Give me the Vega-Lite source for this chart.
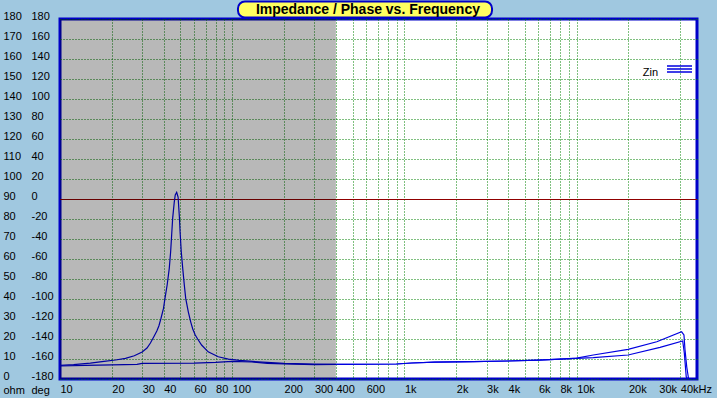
{
  "$schema": "https://vega.github.io/schema/vega-lite/v6.json",
  "width": 637,
  "height": 360,
  "autosize": {"type": "none"},
  "padding": {"left": 60, "top": 19, "right": 20, "bottom": 19},
  "background": "#a0c8e0",
  "config": {
    "view": {"fill": "#ffffff", "stroke": "#0000c8", "strokeWidth": 3},
    "font": "Liberation Sans",
    "axis": {
      "labelFont": "Liberation Sans", "labelFontSize": 11, "labelColor": "#000000",
      "titleFont": "Liberation Sans", "titleFontSize": 11, "titleFontWeight": "normal", "titleColor": "#000000",
      "domain": false, "ticks": false, "tickSize": 0,
      "labelFlush": false, "labelOverlap": false, "labelBound": false
    }
  },
  "datasets": {
    "zin": [
      {"trace": "A", "freq": 10, "ohm": 6.8},
      {"trace": "A", "freq": 12, "ohm": 7.2},
      {"trace": "A", "freq": 15, "ohm": 7.9},
      {"trace": "A", "freq": 18, "ohm": 8.8},
      {"trace": "A", "freq": 21, "ohm": 9.5},
      {"trace": "A", "freq": 24, "ohm": 10.3},
      {"trace": "A", "freq": 27, "ohm": 11.6},
      {"trace": "A", "freq": 30, "ohm": 13.5},
      {"trace": "A", "freq": 32, "ohm": 15.5},
      {"trace": "A", "freq": 33.5, "ohm": 18},
      {"trace": "A", "freq": 35, "ohm": 21},
      {"trace": "A", "freq": 36.5, "ohm": 24},
      {"trace": "A", "freq": 37.5, "ohm": 26.5},
      {"trace": "A", "freq": 38.5, "ohm": 30},
      {"trace": "A", "freq": 39.9, "ohm": 35.3},
      {"trace": "A", "freq": 40.7, "ohm": 40.3},
      {"trace": "A", "freq": 41.9, "ohm": 47},
      {"trace": "A", "freq": 43.1, "ohm": 55.3},
      {"trace": "A", "freq": 43.9, "ohm": 63.6},
      {"trace": "A", "freq": 44.5, "ohm": 72},
      {"trace": "A", "freq": 45.1, "ohm": 80.3},
      {"trace": "A", "freq": 46.1, "ohm": 88.6},
      {"trace": "A", "freq": 46.7, "ohm": 92},
      {"trace": "A", "freq": 47.6, "ohm": 93.3},
      {"trace": "A", "freq": 48.5, "ohm": 91},
      {"trace": "A", "freq": 49.4, "ohm": 80.3},
      {"trace": "A", "freq": 49.8, "ohm": 73.6},
      {"trace": "A", "freq": 50.6, "ohm": 63.6},
      {"trace": "A", "freq": 51.6, "ohm": 55.3},
      {"trace": "A", "freq": 52.7, "ohm": 47},
      {"trace": "A", "freq": 53.7, "ohm": 40.3},
      {"trace": "A", "freq": 55.6, "ohm": 33.6},
      {"trace": "A", "freq": 57.4, "ohm": 28.6},
      {"trace": "A", "freq": 59, "ohm": 25},
      {"trace": "A", "freq": 61, "ohm": 22},
      {"trace": "A", "freq": 63, "ohm": 20},
      {"trace": "A", "freq": 66.4, "ohm": 17},
      {"trace": "A", "freq": 72.5, "ohm": 13.6},
      {"trace": "A", "freq": 83, "ohm": 11.1},
      {"trace": "A", "freq": 95, "ohm": 9.9},
      {"trace": "A", "freq": 110, "ohm": 9.3},
      {"trace": "A", "freq": 150, "ohm": 8.4},
      {"trace": "A", "freq": 200, "ohm": 7.8},
      {"trace": "A", "freq": 300, "ohm": 7.4},
      {"trace": "A", "freq": 400, "ohm": 7.3},
      {"trace": "A", "freq": 900, "ohm": 7.5},
      {"trace": "A", "freq": 1100, "ohm": 8.0},
      {"trace": "A", "freq": 1500, "ohm": 8.4},
      {"trace": "A", "freq": 2500, "ohm": 8.7},
      {"trace": "A", "freq": 4000, "ohm": 9.0},
      {"trace": "A", "freq": 6000, "ohm": 9.4},
      {"trace": "A", "freq": 8000, "ohm": 9.9},
      {"trace": "A", "freq": 10000, "ohm": 10.4},
      {"trace": "A", "freq": 12500, "ohm": 12.0},
      {"trace": "A", "freq": 19900, "ohm": 14.8},
      {"trace": "A", "freq": 29200, "ohm": 18.6},
      {"trace": "A", "freq": 40700, "ohm": 23.6},
      {"trace": "A", "freq": 42000, "ohm": 22.0},
      {"trace": "A", "freq": 42600, "ohm": 14.5},
      {"trace": "A", "freq": 43600, "ohm": 6.0},
      {"trace": "A", "freq": 44600, "ohm": 0.5},
      {"trace": "B", "freq": 10, "ohm": 6.5},
      {"trace": "B", "freq": 14, "ohm": 6.8},
      {"trace": "B", "freq": 20, "ohm": 7.1},
      {"trace": "B", "freq": 28, "ohm": 7.3},
      {"trace": "B", "freq": 30, "ohm": 7.8},
      {"trace": "B", "freq": 60, "ohm": 7.9},
      {"trace": "B", "freq": 80, "ohm": 8.3},
      {"trace": "B", "freq": 100, "ohm": 8.8},
      {"trace": "B", "freq": 130, "ohm": 8.5},
      {"trace": "B", "freq": 160, "ohm": 7.8},
      {"trace": "B", "freq": 200, "ohm": 7.6},
      {"trace": "B", "freq": 300, "ohm": 7.2},
      {"trace": "B", "freq": 400, "ohm": 7.3},
      {"trace": "B", "freq": 900, "ohm": 7.5},
      {"trace": "B", "freq": 1100, "ohm": 8.0},
      {"trace": "B", "freq": 1500, "ohm": 8.4},
      {"trace": "B", "freq": 2500, "ohm": 8.7},
      {"trace": "B", "freq": 4000, "ohm": 9.0},
      {"trace": "B", "freq": 6000, "ohm": 9.4},
      {"trace": "B", "freq": 8000, "ohm": 9.9},
      {"trace": "B", "freq": 10000, "ohm": 10.3},
      {"trace": "B", "freq": 12500, "ohm": 10.7},
      {"trace": "B", "freq": 19900, "ohm": 12.0},
      {"trace": "B", "freq": 30500, "ohm": 15.8},
      {"trace": "B", "freq": 41300, "ohm": 19.0},
      {"trace": "B", "freq": 42200, "ohm": 13.0},
      {"trace": "B", "freq": 43300, "ohm": 1.0},
      {"trace": "B", "freq": 44000, "ohm": 0.3}
    ]
  },
  "layer": [
    {
      "data": {"values": [{"deg": 0}]},
      "mark": {"type": "rule", "color": "#900000", "strokeWidth": 1, "yOffset": 0.5},
      "encoding": {
        "y": {
          "field": "deg", "type": "quantitative",
          "scale": {"domain": [-180, 180], "nice": false, "zero": false},
          "axis": {
            "orient": "left",
            "values": [-180, -160, -140, -120, -100, -80, -60, -40, -20, 0, 20, 40, 60, 80, 100, 120, 140, 160, 180],
            "labelExpr": "'' + datum.value",
            "grid": false, "labelOverlap": false, "labelBound": false, "labelFlush": false,
            "labelAlign": "left", "labelBaseline": "middle", "labelPadding": 29, "labelOffset": -3,
            "title": "deg", "titleAngle": 0, "titleX": -29, "titleY": 371, "titleAlign": "left", "titleBaseline": "middle"
          }
        }
      }
    },
    {
      "data": {"name": "zin"},
      "mark": {"type": "line", "strokeWidth": 1.2, "interpolate": "linear"},
      "encoding": {
        "x": {
          "field": "freq", "type": "quantitative",
          "scale": {"type": "log", "domain": [10, 50000], "nice": false},
          "axis": {
            "values": [10, 20, 30, 40, 50, 60, 70, 80, 90, 100, 200, 300, 400, 500, 600, 700, 800, 900, 1000, 2000, 3000, 4000, 5000, 6000, 7000, 8000, 9000, 10000, 20000, 30000, 40000],
            "labelExpr": "indexof([50,70,90,500,700,800,900,5000,7000,9000], datum.value) >= 0 ? '' : (datum.value >= 40000 ? '40kHz' : (datum.value >= 1000 ? (datum.value / 1000) + 'k' : '' + datum.value))",
            "labelAlign": "left", "labelBaseline": "middle", "labelPadding": 10,
            "labelOverlap": false, "labelBound": false, "labelFlush": false,
            "grid": true, "gridColor": "#008000", "gridDash": [1, 2], "gridWidth": 1,
            "gridOpacity": {"condition": {"test": "datum.value == 30000 || datum.value == 10", "value": 0}, "value": 1},
            "title": null
          }
        },
        "y": {
          "field": "ohm", "type": "quantitative",
          "scale": {"domain": [0, 180], "nice": false},
          "axis": {
            "orient": "left",
            "values": [0, 10, 20, 30, 40, 50, 60, 70, 80, 90, 100, 110, 120, 130, 140, 150, 160, 170, 180],
            "grid": true, "gridColor": "#008000", "gridDash": [1, 2], "gridWidth": 1,
            "labelOverlap": false, "labelBound": false, "labelFlush": false,
            "labelAlign": "left", "labelBaseline": "middle", "labelPadding": 57, "labelOffset": -3,
            "title": "ohm", "titleAngle": 0, "titleX": -57, "titleY": 371, "titleAlign": "left", "titleBaseline": "middle"
          }
        },
        "detail": {"field": "trace"},
        "color": {
          "datum": "Zin", "type": "nominal",
          "scale": {"range": ["#0000e0"]},
          "legend": {
            "orient": "none", "legendX": 581, "legendY": 40, "title": null, "padding": 0,
            "symbolType": "M-1,-0.52H1M-1,-0.28H1M-1,-0.04H1", "symbolSize": 625,
            "symbolStrokeWidth": 1.3, "symbolStrokeColor": "#0000c8", "symbolFillColor": "transparent",
            "symbolOffset": 25, "labelAlign": "right", "labelOffset": -35,
            "labelFont": "Liberation Sans", "labelFontSize": 11, "labelColor": "#000000"
          }
        }
      }
    },
    {
      "data": {"values": [{"from": 10, "to": 400}]},
      "mark": {"type": "rect", "color": "#000000", "opacity": 0.28},
      "encoding": {
        "x": {"field": "from", "type": "quantitative"},
        "x2": {"field": "to"}
      }
    },
    {
      "data": {"values": [{"title": "Impedance / Phase vs. Frequency"}]},
      "layer": [
        {
          "mark": {"type": "rect", "fill": "#ffff60", "stroke": "#0000c8", "strokeWidth": 2, "cornerRadius": 7, "clip": false},
          "encoding": {
            "x": {"datum": 108, "type": "quantitative"},
            "x2": {"datum": 3226},
            "y": {"datum": 188.75, "type": "quantitative", "scale": {"domain": [0, 180], "nice": false}, "axis": null},
            "y2": {"datum": 180.75}
          }
        },
        {
          "mark": {"type": "text", "font": "Liberation Sans", "fontSize": 14, "fontWeight": "bold", "color": "#000000", "align": "center", "baseline": "middle", "clip": false},
          "encoding": {
            "x": {"datum": 614, "type": "quantitative"},
            "y": {"datum": 184.6, "type": "quantitative", "scale": {"domain": [0, 180], "nice": false}, "axis": null},
            "text": {"field": "title"}
          }
        }
      ]
    }
  ],
  "resolve": {"scale": {"y": "independent"}}
}
